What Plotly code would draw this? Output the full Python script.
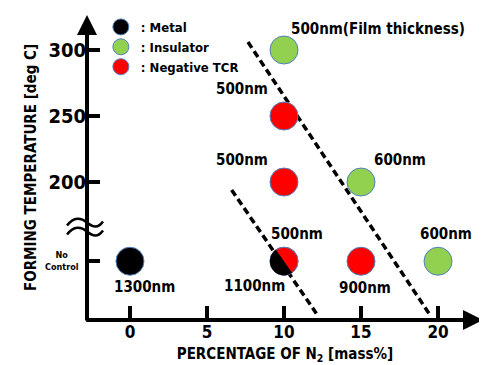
import numpy as np
import plotly.graph_objects as go

# ---------------- data ----------------
NC = 140  # position used for the "No Control" temperature row
metal_x = [0, 10]
metal_y = [NC, NC]
metal_lbl = ["1300nm", "1100nm"]

ins_x = [10, 15, 20]
ins_y = [300, 200, NC]
ins_lbl = ["500nm(Film thickness)", "600nm", "600nm"]

neg_x = [10, 10, 15, 10]
neg_y = [250, 200, NC, NC]
neg_lbl = ["500nm", "500nm", "900nm", "500nm"]

# boundary (dashed) lines
bound1_x = [7.66, 19.5]
bound1_y = [306, 99]
bound2_x = [6.6, 12.1]
bound2_y = [194, 100.5]

x_ticks = [0, 5, 10, 15, 20]
y_ticks = [200, 250, 300]
BREAK_Y = 165.5

XR = [-2.79, 22.92]
YR = [95.5, 326.5]

FONT = "DejaVu Sans Condensed, DejaVu Sans, sans-serif"
OUT = "#4F81BD"
SZ = 28

def bf(size):
    return dict(family=FONT, size=size, color="black", weight="bold")

fig = go.Figure()

for x, y in [(bound1_x, bound1_y), (bound2_x, bound2_y)]:
    fig.add_trace(go.Scatter(x=x, y=y, mode="lines", showlegend=False,
                             line=dict(color="black", width=3.5, dash="7px,4px"),
                             hoverinfo="skip"))

fig.add_trace(go.Scatter(x=metal_x, y=metal_y, mode="markers", name=": Metal",
                         marker=dict(color="black", size=SZ, line=dict(color=OUT, width=1))))
fig.add_trace(go.Scatter(x=ins_x, y=ins_y, mode="markers", name=": Insulator",
                         marker=dict(color="#92D050", size=SZ, line=dict(color=OUT, width=1))))
fig.add_trace(go.Scatter(x=neg_x, y=neg_y, mode="markers", name=": Negative TCR",
                         marker=dict(color="#FF0000", size=SZ, line=dict(color=OUT, width=1))))

# black half of the mixed marker (metal point overlapping negative TCR point)
r = SZ / 2
ang = np.linspace(np.deg2rad(125), np.deg2rad(305), 40)
path = "M " + " L ".join(f"{r*np.cos(a):.2f},{r*np.sin(a):.2f}" for a in ang) + " Z"
fig.add_shape(type="path", path=path, xsizemode="pixel", ysizemode="pixel",
              xanchor=metal_x[1], yanchor=metal_y[1], fillcolor="black",
              line=dict(width=0), layer="above")

ann = []
def lab(x, y, t, xa="center", xs=0, ys=0):
    ann.append(dict(x=x, y=y, text=t, showarrow=False, xanchor=xa, yanchor="middle",
                    xshift=xs, yshift=ys, font=bf(15)))

# label offsets (style)
lab(metal_x[0], metal_y[0], metal_lbl[0], "center", 15, -26)
lab(metal_x[1], metal_y[1], metal_lbl[1], "center", -30, -25)
lab(ins_x[0], ins_y[0], ins_lbl[0], "left", 5, 21)
lab(ins_x[1], ins_y[1], ins_lbl[1], "left", 11, 22)
lab(ins_x[2], ins_y[2], ins_lbl[2], "center", 8, 27)
lab(neg_x[0], neg_y[0], neg_lbl[0], "right", -14, 27)
lab(neg_x[1], neg_y[1], neg_lbl[1], "right", -14, 22)
lab(neg_x[2], neg_y[2], neg_lbl[2], "center", 4, -27)
lab(neg_x[3], neg_y[3], neg_lbl[3], "center", 13, 27)

# axes with arrows
ann.append(dict(x=XR[1], y=YR[0], ax=XR[0] - 0.15, ay=YR[0], xref="x", yref="y", axref="x", ayref="y",
                showarrow=True, arrowhead=2, arrowwidth=4, arrowsize=1, arrowcolor="black", text="",
                standoff=0))
ann.append(dict(x=XR[0], y=YR[1], ax=XR[0], ay=YR[0] - 1.5, xref="x", yref="y", axref="x", ayref="y",
                showarrow=True, arrowhead=2, arrowwidth=4, arrowsize=1, arrowcolor="black", text="",
                standoff=0))
# No Control label
ann.append(dict(x=0, xref="paper", y=NC, yref="y", text="No<br>Control", showarrow=False,
                xanchor="right", xshift=-6, font=bf(9)))

# axis break marks (paper-referenced so they are not clipped)
yb = (BREAK_Y - YR[0]) / (YR[1] - YR[0])
for dy in (5, -4):
    fig.add_shape(type="path", xref="paper", yref="paper", xsizemode="pixel", ysizemode="pixel",
                  xanchor=0, yanchor=yb,
                  path=f"M -20,{dy-3} C -13,{dy+6} -6,{dy+5} 0,{dy} C 6,{dy-5} 11,{dy-6} 16,{dy+1}",
                  line=dict(color="black", width=2.5), layer="above")

# the page body adds an 8px margin, so the figure is sized to the visible area
fig.update_layout(
    width=479, height=357,
    margin=dict(l=79, r=4, t=7, b=45),
    paper_bgcolor="white", plot_bgcolor="white",
    font=bf(14),
    annotations=ann,
    legend=dict(x=0.035, y=1.01, xanchor="left", yanchor="top", bgcolor="rgba(0,0,0,0)",
                font=bf(13), itemsizing="trace", tracegroupgap=0),
    xaxis=dict(range=XR, tickvals=x_ticks, ticks="inside", ticklen=14, tickwidth=4,
               tickcolor="black", showgrid=False, zeroline=False, showline=False,
               automargin=False, tickfont=bf(17),
               title=dict(text="PERCENTAGE OF N<sub>2</sub> [mass%]", font=bf(15), standoff=7)),
    yaxis=dict(range=YR, tickvals=y_ticks + [NC], ticktext=[str(v) for v in y_ticks] + [""],
               ticks="inside", ticklen=13, tickwidth=4, tickcolor="black",
               showgrid=False, zeroline=False, showline=False,
               automargin=False, tickfont=bf(20),
               title=dict(text="FORMING TEMPERATURE [deg C]", font=bf(15), standoff=8)),
)

fig.write_html("out.html")
